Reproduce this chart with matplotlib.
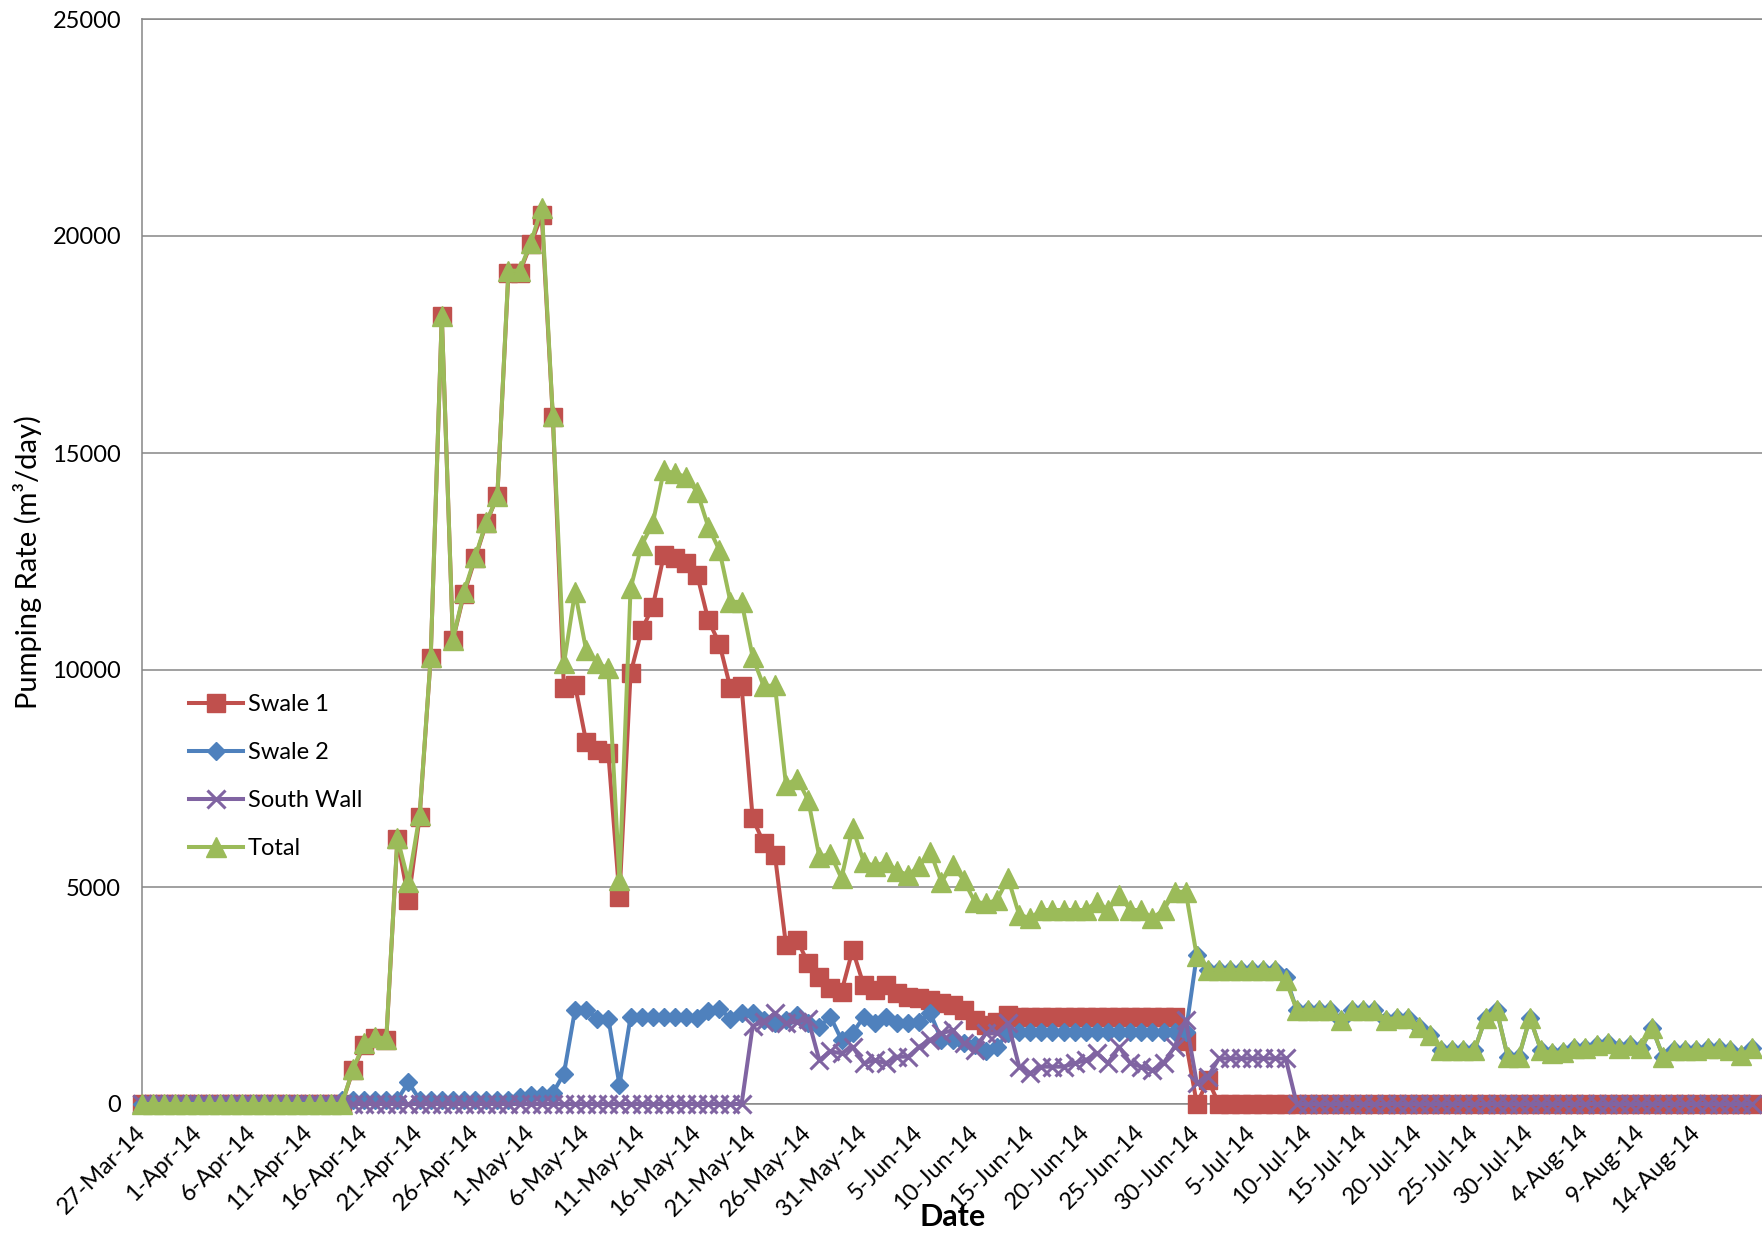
import matplotlib.pyplot as plt
import matplotlib.dates as mdates
import pandas as pd

plt.rcParams['font.family'] = ['Lato', 'DejaVu Sans']

# daily pumping rates, 27-Mar-14 onwards (m3/day)
dates = pd.date_range('2014-03-27', periods=146, freq='D')

swale1 = ([0] * 19 +
          [780, 1360, 1510, 1480, 6100, 4700, 6610, 10280, 18150, 10690,
           11750, 12570, 13380, 14000, 19150, 19150, 19810, 20480, 15830, 9580,
           9650, 8350, 8160, 8080, 4780, 9920, 10920, 11460, 12650, 12570,
           12460, 12190, 11150, 10610, 9580, 9620, 6580, 6010, 5740, 3660,
           3780, 3240, 2930, 2670, 2590, 3550, 2740, 2630, 2740, 2550,
           2470, 2440, 2400, 2320, 2280, 2170, 1940, 1820, 1900, 2050] +
          [2000] * 15 + [1450, 0, 550] + [0] * 49)

total = ([0] * 19 +
         [800, 1400, 1550, 1500, 6130, 5120, 6650, 10300, 18150, 10700,
          11800, 12600, 13400, 14000, 19200, 19200, 19830, 20650, 15850, 10150,
          11800, 10460, 10150, 10040, 5160, 11880, 12880, 13380, 14600, 14530,
          14450, 14100, 13300, 12760, 11570, 11570, 10300, 9620, 9650, 7350,
          7500, 7000, 5700, 5760, 5200, 6370, 5580, 5480, 5580, 5370,
          5280, 5480, 5810, 5120, 5510, 5160, 4660, 4620, 4700, 5200,
          4360, 4280, 4470, 4470, 4470, 4470, 4470, 4660, 4470, 4820,
          4470, 4470, 4280, 4470, 4890, 4890, 3400] +
         [3090] * 7 +
         [2860, 2170, 2170, 2170, 2170, 1940, 2170, 2170, 2170, 1940,
          1990, 1990, 1780, 1590, 1240, 1240, 1240, 1240, 1980, 2170,
          1090, 1090, 1980, 1240, 1170, 1200, 1280, 1280, 1360, 1400,
          1280, 1360, 1280, 1750, 1090, 1240, 1240, 1240, 1280, 1280,
          1240, 1130, 1280])

swale2 = ([0] * 18 + [100] * 6 + [500] + [100] * 9 + [150, 200, 200, 250] +
          [700, 2170, 2170, 1970, 1970, 440, 2000, 2000, 2000, 2000,
           2000, 2000, 1980, 2150, 2200, 1970, 2090, 2090, 1940, 1860,
           1940, 2050, 1860, 1780, 2010, 1480, 1630, 2010, 1860, 2010,
           1860, 1860, 1900, 2090, 1480, 1480, 1400, 1350, 1210, 1320,
           1630] +
          [1650] * 16 + [3430] + [3090] * 7 + [2930] + total[104:])

south_wall = ([0] * 55 +
              [1800, 1900, 2090, 1860, 1900, 1950, 1010, 1210, 1170, 1320,
               940, 1010, 940, 1090, 1090, 1320, 1480, 1630, 1700, 1400,
               1240, 1630, 1630, 1860, 860, 710, 860, 860, 860, 940,
               1010, 1170, 940, 1320, 940, 860, 780, 940, 1320, 1940,
               480, 630] +
              [1050] * 7 + [0] * 42)

tick_dates = pd.date_range('2014-03-27', '2014-08-14', freq='5D')

fig = plt.figure(figsize=(17.62, 12.33), dpi=100)
ax = fig.add_axes([142 / 1762, 129 / 1233, 1620 / 1762, 1085 / 1233])

ax.plot(dates, swale1, color='#C0504D', lw=2.9, marker='s', ms=13,
        label='Swale 1', clip_on=False, zorder=3)
ax.plot(dates, swale2, color='#4F81BD', lw=2.9, marker='D', ms=9.5,
        label='Swale 2', clip_on=False, zorder=4)
ax.plot(dates, south_wall, color='#8064A2', lw=2.9, marker='x', ms=13, mew=2.2,
        label='South Wall', clip_on=False, zorder=5)
ax.plot(dates, total, color='#9BBB59', lw=2.9, marker='^', ms=14,
        label='Total', clip_on=False, zorder=6)

ax.set_ylim(0, 25000)
ax.set_yticks(range(0, 25001, 5000))
ax.set_xlim(dates[0], dates[0] + pd.Timedelta(days=145.9))
ax.set_xticks(tick_dates)
ax.xaxis.set_major_formatter(mdates.DateFormatter('%-d-%b-%y'))

ax.tick_params(axis='y', length=0, pad=15, labelsize=17)
ax.tick_params(axis='x', length=0, pad=18, labelsize=17)
for lab in ax.get_xticklabels():
    lab.set_rotation(45)
    lab.set_ha('right')
    lab.set_va('center')
    lab.set_rotation_mode('anchor')

ax.yaxis.grid(True, color='#868686', lw=1.1)
ax.set_axisbelow(True)
for side in ['left', 'top', 'bottom']:
    ax.spines[side].set_color('#868686')
    ax.spines[side].set_linewidth(1.1)
ax.spines['right'].set_visible(False)

ax.legend(loc='upper left', bbox_to_anchor=(0.029, 0.378), frameon=False,
          fontsize=17, handlelength=2.3, handletextpad=0.2, labelspacing=1.15,
          borderaxespad=0, borderpad=0)

fig.text(28 / 1762, 1 - 562 / 1233, 'Pumping Rate (m³/day)', rotation=90,
         ha='center', va='center', fontsize=21)
fig.text(953 / 1762, 1 - 1217 / 1233, 'Date', ha='center', va='center',
         fontsize=22, fontweight='bold')

plt.savefig('out.png', dpi=100)
